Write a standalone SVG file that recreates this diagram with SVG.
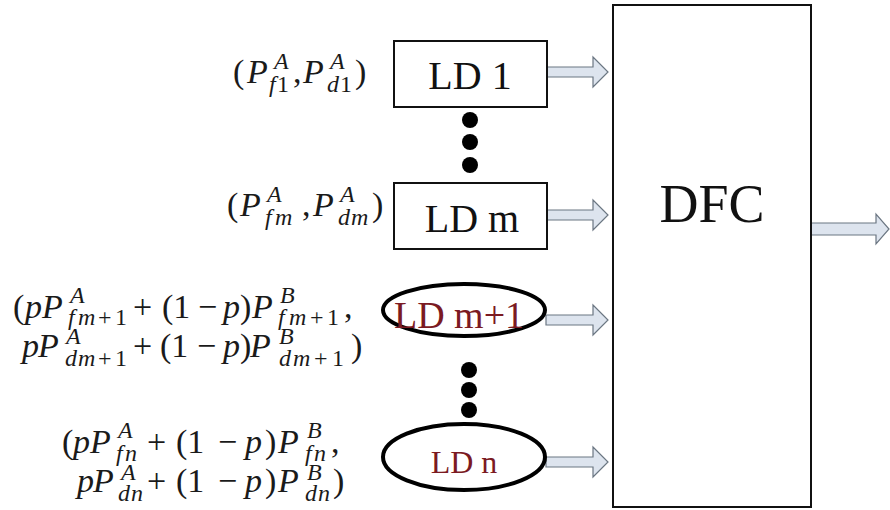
<svg xmlns="http://www.w3.org/2000/svg" width="890" height="510" viewBox="0 0 890 510">
<style>
.t{fill:#1a1a1a}
.box{fill:#fff;stroke:#111;stroke-width:2}
.ell{fill:#fff;stroke:#000;stroke-width:4}
.lbl{fill:#111}
.red{fill:#7b1a22}
.arr{fill:#dde4ee;stroke:#6b7682;stroke-width:1.2}
.dot{fill:#000}
</style>
<rect width="890" height="510" fill="#fff"/>

<g id="connectors">
<polygon class="arr" points="547,67 593,67 593,57 608,72 593,87 593,77 547,77"/>
<polygon class="arr" points="547,210 593,210 593,200 608,215 593,230 593,220 547,220"/>
<polygon class="arr" points="546,315 593,315 593,305 608,320 593,335 593,325 546,325"/>
<polygon class="arr" points="546,457 593,457 593,447 608,462 593,477 593,467 546,467"/>
<polygon class="arr" points="811,223 876,223 876,214 889,229 876,244 876,235 811,235"/>
</g>

<g id="dfc">
<rect class="box" x="613" y="5" width="198" height="502"/>
<text class="lbl" x="712" y="222" font-family="Liberation Serif" font-size="54" text-anchor="middle">DFC</text>
</g>

<g id="ld1">
<rect class="box" x="394" y="41" width="153" height="66"/>
<text class="lbl" x="470" y="89" font-family="Liberation Serif" font-size="40" text-anchor="middle">LD 1</text>
</g>

<g id="dots1">
<circle class="dot" cx="470" cy="120" r="8"/>
<circle class="dot" cx="470" cy="142" r="8"/>
<circle class="dot" cx="470" cy="165" r="8"/>
</g>

<g id="ldm">
<rect class="box" x="394" y="183" width="153" height="66"/>
<text class="lbl" x="472" y="232" font-family="Liberation Serif" font-size="40" text-anchor="middle">LD m</text>
</g>

<g id="ldm1">
<ellipse class="ell" cx="464" cy="310" rx="81" ry="26"/>
<text class="red" x="459" y="328" font-family="Liberation Serif" font-size="38" text-anchor="middle">LD m+1</text>
</g>

<g id="dots2">
<circle class="dot" cx="469" cy="370" r="8"/>
<circle class="dot" cx="469" cy="390" r="8"/>
<circle class="dot" cx="469" cy="410" r="8"/>
</g>

<g id="ldn">
<ellipse class="ell" cx="464" cy="457" rx="81" ry="33"/>
<text class="red" x="464" y="473" font-family="Liberation Serif" font-size="32" text-anchor="middle">LD n</text>
</g>

<g id="label1">
<text class="t" x="233" y="83" font-family="Liberation Serif" font-size="34">(</text>
<text class="t" x="247" y="83" font-family="Liberation Serif" font-size="34" font-style="italic">P</text>
<text class="t" x="274" y="69" font-family="Liberation Serif" font-size="24" font-style="italic">A</text>
<text class="t" x="269" y="92" font-family="Liberation Serif" font-size="24" font-style="italic">f</text>
<text class="t" x="277" y="92" font-family="Liberation Serif" font-size="24">1</text>
<text class="t" x="293" y="83" font-family="Liberation Serif" font-size="34">,</text>
<text class="t" x="303" y="83" font-family="Liberation Serif" font-size="34" font-style="italic">P</text>
<text class="t" x="330" y="69" font-family="Liberation Serif" font-size="24" font-style="italic">A</text>
<text class="t" x="327" y="92" font-family="Liberation Serif" font-size="24" font-style="italic">d</text>
<text class="t" x="340" y="92" font-family="Liberation Serif" font-size="24">1</text>
<text class="t" x="355" y="83" font-family="Liberation Serif" font-size="34">)</text>
</g>

<g id="label2">
<text class="t" x="227" y="216" font-family="Liberation Serif" font-size="34">(</text>
<text class="t" x="240" y="216" font-family="Liberation Serif" font-size="34" font-style="italic">P</text>
<text class="t" x="267" y="202" font-family="Liberation Serif" font-size="24" font-style="italic">A</text>
<text class="t" x="265" y="225" font-family="Liberation Serif" font-size="24" font-style="italic">f</text>
<text class="t" x="275" y="225" font-family="Liberation Serif" font-size="24" font-style="italic">m</text>
<text class="t" x="302" y="216" font-family="Liberation Serif" font-size="34">,</text>
<text class="t" x="313" y="216" font-family="Liberation Serif" font-size="34" font-style="italic">P</text>
<text class="t" x="340" y="202" font-family="Liberation Serif" font-size="24" font-style="italic">A</text>
<text class="t" x="338" y="225" font-family="Liberation Serif" font-size="24" font-style="italic">d</text>
<text class="t" x="351" y="225" font-family="Liberation Serif" font-size="24" font-style="italic">m</text>
<text class="t" x="372" y="216" font-family="Liberation Serif" font-size="34">)</text>
</g>

<g id="label3">
<text class="t" x="13" y="318" font-family="Liberation Serif" font-size="34">(</text>
<text class="t" x="25" y="318" font-family="Liberation Serif" font-size="34" font-style="italic">p</text>
<text class="t" x="42" y="318" font-family="Liberation Serif" font-size="34" font-style="italic">P</text>
<text class="t" x="70" y="303" font-family="Liberation Serif" font-size="24" font-style="italic">A</text>
<text class="t" x="68" y="325" font-family="Liberation Serif" font-size="24" font-style="italic">f</text>
<text class="t" x="78" y="325" font-family="Liberation Serif" font-size="24" font-style="italic">m</text>
<text class="t" x="98" y="325" font-family="Liberation Serif" font-size="24">+</text>
<text class="t" x="115" y="325" font-family="Liberation Serif" font-size="24">1</text>
<text class="t" x="133" y="318" font-family="Liberation Serif" font-size="34">+</text>
<text class="t" x="162" y="318" font-family="Liberation Serif" font-size="34">(1</text>
<text class="t" x="198" y="318" font-family="Liberation Serif" font-size="34">−</text>
<text class="t" x="223" y="318" font-family="Liberation Serif" font-size="34" font-style="italic">p</text>
<text class="t" x="240" y="318" font-family="Liberation Serif" font-size="34">)</text>
<text class="t" x="252" y="318" font-family="Liberation Serif" font-size="34" font-style="italic">P</text>
<text class="t" x="280" y="303" font-family="Liberation Serif" font-size="24" font-style="italic">B</text>
<text class="t" x="278" y="325" font-family="Liberation Serif" font-size="24" font-style="italic">f</text>
<text class="t" x="289" y="325" font-family="Liberation Serif" font-size="24" font-style="italic">m</text>
<text class="t" x="310" y="325" font-family="Liberation Serif" font-size="24">+</text>
<text class="t" x="327" y="325" font-family="Liberation Serif" font-size="24">1</text>
<text class="t" x="344" y="318" font-family="Liberation Serif" font-size="34">,</text>

<text class="t" x="22" y="357" font-family="Liberation Serif" font-size="34" font-style="italic">p</text>
<text class="t" x="38" y="357" font-family="Liberation Serif" font-size="34" font-style="italic">P</text>
<text class="t" x="66" y="344" font-family="Liberation Serif" font-size="24" font-style="italic">A</text>
<text class="t" x="65" y="366" font-family="Liberation Serif" font-size="24" font-style="italic">d</text>
<text class="t" x="78" y="366" font-family="Liberation Serif" font-size="24" font-style="italic">m</text>
<text class="t" x="98" y="366" font-family="Liberation Serif" font-size="24">+</text>
<text class="t" x="115" y="366" font-family="Liberation Serif" font-size="24">1</text>
<text class="t" x="133" y="357" font-family="Liberation Serif" font-size="34">+</text>
<text class="t" x="160" y="357" font-family="Liberation Serif" font-size="34">(1</text>
<text class="t" x="197" y="357" font-family="Liberation Serif" font-size="34">−</text>
<text class="t" x="223" y="357" font-family="Liberation Serif" font-size="34" font-style="italic">p</text>
<text class="t" x="240" y="357" font-family="Liberation Serif" font-size="34">)</text>
<text class="t" x="250" y="357" font-family="Liberation Serif" font-size="34" font-style="italic">P</text>
<text class="t" x="279" y="344" font-family="Liberation Serif" font-size="24" font-style="italic">B</text>
<text class="t" x="279" y="366" font-family="Liberation Serif" font-size="24" font-style="italic">d</text>
<text class="t" x="293" y="366" font-family="Liberation Serif" font-size="24" font-style="italic">m</text>
<text class="t" x="314" y="366" font-family="Liberation Serif" font-size="24">+</text>
<text class="t" x="332" y="366" font-family="Liberation Serif" font-size="24">1</text>
<text class="t" x="351" y="357" font-family="Liberation Serif" font-size="34">)</text>
</g>

<g id="label4">
<text class="t" x="62" y="453" font-family="Liberation Serif" font-size="34">(</text>
<text class="t" x="73" y="453" font-family="Liberation Serif" font-size="34" font-style="italic">p</text>
<text class="t" x="90" y="453" font-family="Liberation Serif" font-size="34" font-style="italic">P</text>
<text class="t" x="118" y="438" font-family="Liberation Serif" font-size="24" font-style="italic">A</text>
<text class="t" x="116" y="461" font-family="Liberation Serif" font-size="24" font-style="italic">f</text>
<text class="t" x="125" y="461" font-family="Liberation Serif" font-size="24" font-style="italic">n</text>
<text class="t" x="147" y="453" font-family="Liberation Serif" font-size="34">+</text>
<text class="t" x="176" y="453" font-family="Liberation Serif" font-size="34">(1</text>
<text class="t" x="218" y="453" font-family="Liberation Serif" font-size="34">−</text>
<text class="t" x="245" y="453" font-family="Liberation Serif" font-size="34" font-style="italic">p</text>
<text class="t" x="265" y="453" font-family="Liberation Serif" font-size="34">)</text>
<text class="t" x="278" y="453" font-family="Liberation Serif" font-size="34" font-style="italic">P</text>
<text class="t" x="307" y="438" font-family="Liberation Serif" font-size="24" font-style="italic">B</text>
<text class="t" x="305" y="461" font-family="Liberation Serif" font-size="24" font-style="italic">f</text>
<text class="t" x="314" y="461" font-family="Liberation Serif" font-size="24" font-style="italic">n</text>
<text class="t" x="331" y="453" font-family="Liberation Serif" font-size="34">,</text>

<text class="t" x="77" y="492" font-family="Liberation Serif" font-size="34" font-style="italic">p</text>
<text class="t" x="93" y="492" font-family="Liberation Serif" font-size="34" font-style="italic">P</text>
<text class="t" x="121" y="480" font-family="Liberation Serif" font-size="24" font-style="italic">A</text>
<text class="t" x="118" y="501" font-family="Liberation Serif" font-size="24" font-style="italic">d</text>
<text class="t" x="131" y="501" font-family="Liberation Serif" font-size="24" font-style="italic">n</text>
<text class="t" x="147" y="492" font-family="Liberation Serif" font-size="34">+</text>
<text class="t" x="176" y="492" font-family="Liberation Serif" font-size="34">(1</text>
<text class="t" x="218" y="492" font-family="Liberation Serif" font-size="34">−</text>
<text class="t" x="245" y="492" font-family="Liberation Serif" font-size="34" font-style="italic">p</text>
<text class="t" x="265" y="492" font-family="Liberation Serif" font-size="34">)</text>
<text class="t" x="278" y="492" font-family="Liberation Serif" font-size="34" font-style="italic">P</text>
<text class="t" x="307" y="480" font-family="Liberation Serif" font-size="24" font-style="italic">B</text>
<text class="t" x="305" y="501" font-family="Liberation Serif" font-size="24" font-style="italic">d</text>
<text class="t" x="318" y="501" font-family="Liberation Serif" font-size="24" font-style="italic">n</text>
<text class="t" x="333" y="492" font-family="Liberation Serif" font-size="34">)</text>
</g>
</svg>
